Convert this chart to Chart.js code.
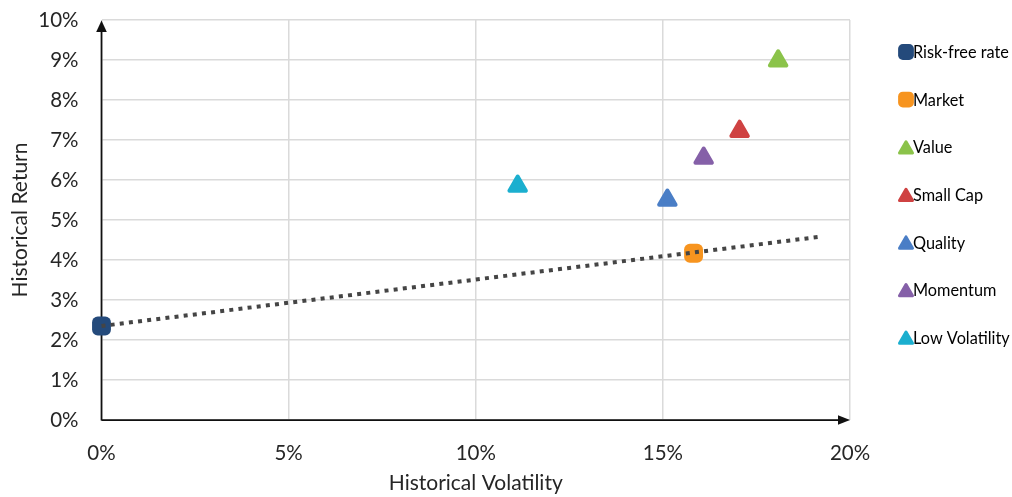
<!DOCTYPE html>
<html><head><meta charset="utf-8">
<script src="https://cdn.jsdelivr.net/npm/chart.js@4/dist/chart.umd.min.js"></script>
<style>html,body{margin:0;padding:0;background:#fff}#wrap{width:1012px;height:497px;position:relative}</style>
</head><body><div id="wrap"><canvas id="c"></canvas></div>
<script>
// ---- data ----
const seriesNames = ['Risk-free rate', 'Market', 'Value', 'Small Cap', 'Quality', 'Momentum', 'Low Volatility'];
const volatility = [0, 15.82, 18.08, 17.05, 15.12, 16.09, 11.12];   // x, %
const historicalReturn = [2.35, 4.17, 8.98, 7.22, 5.50, 6.55, 5.85]; // y, %
const seriesColors = ['#244a7b', '#f7941f', '#8bc34a', '#cf4242', '#4a7ec6', '#8560a8', '#1bafcf'];
const seriesShapes = ['rectRounded', 'rectRounded', 'triangle', 'triangle', 'triangle', 'triangle', 'triangle'];
const lineX = [0, 19.15];
const lineY = [2.35, 4.575];
const xTicks = [0, 5, 10, 15, 20];
const yTicks = [0, 1, 2, 3, 4, 5, 6, 7, 8, 9, 10];

const FONT = 'Lato';
const TEXT = '#262626';

const datasets = [{
  type: 'line',
  label: 'CML',
  data: lineX.map((x, i) => ({x: x, y: lineY[i]})),
  borderColor: '#454545',
  borderWidth: 4,
  borderDash: [4, 5.2],
  borderCapStyle: 'butt',
  pointRadius: 0,
  fill: false,
  clip: false,
  order: 0
}];
seriesNames.forEach((n, i) => {
  const tri = seriesShapes[i] === 'triangle';
  datasets.push({
    type: 'scatter',
    label: n,
    data: [{x: volatility[i], y: historicalReturn[i]}],
    pointStyle: seriesShapes[i],
    pointRadius: tri ? 9.5 : 11,
    pointHoverRadius: tri ? 9.5 : 11,
    pointBackgroundColor: seriesColors[i],
    pointBorderColor: seriesColors[i],
    pointBorderWidth: tri ? 4 : 0,
    clip: false,
    order: 1
  });
});

const roundJoin = {
  id: 'roundJoin',
  beforeDatasetsDraw(chart) {
    const ctx = chart.ctx;
    const xs = chart.scales.x, ys = chart.scales.y;
    const x0 = xs.getPixelForValue(0), y0 = ys.getPixelForValue(0);
    const top = ys.top, right = xs.right;
    ctx.save();
    ctx.strokeStyle = '#111'; ctx.fillStyle = '#111'; ctx.lineWidth = 1.75;
    ctx.beginPath(); ctx.moveTo(x0, y0 + 0.5); ctx.lineTo(x0, top + 8); ctx.stroke();
    ctx.beginPath(); ctx.moveTo(x0, top + 0.5); ctx.lineTo(x0 - 5.3, top + 12); ctx.lineTo(x0 + 5.3, top + 12); ctx.closePath(); ctx.fill();
    ctx.beginPath(); ctx.moveTo(x0, y0); ctx.lineTo(right - 8, y0); ctx.stroke();
    ctx.beginPath(); ctx.moveTo(right, y0); ctx.lineTo(right - 12, y0 - 4.8); ctx.lineTo(right - 12, y0 + 4.8); ctx.closePath(); ctx.fill();
    ctx.restore();
    ctx.save();
    ctx.lineJoin = 'round';
  },
  afterDatasetsDraw(chart) {
    chart.ctx.restore();
  },
  afterDraw(chart) {
    const ctx = chart.ctx;
    ctx.save();
    ctx.lineJoin = 'round';
    ctx.font = '16.3px ' + FONT;
    ctx.textBaseline = 'middle';
    ctx.textAlign = 'left';
    const lx = 906, ly0 = 52, gap = 47.6;
    seriesNames.forEach((n, i) => {
      const y = ly0 + i * gap;
      const tri = seriesShapes[i] === 'triangle';
      ctx.fillStyle = seriesColors[i];
      ctx.strokeStyle = seriesColors[i];
      ctx.lineWidth = tri ? 3 : 0;
      Chart.helpers.drawPoint(ctx, {
        pointStyle: seriesShapes[i],
        radius: tri ? 7.5 : 9.2,
        borderWidth: tri ? 3 : 0,
        rotation: 0
      }, lx, tri ? y + 2 : y);
      ctx.fillStyle = '#000';
      ctx.fillText(n, 913, y + 1);
    });
    ctx.restore();
  }
};

new Chart(document.getElementById('c'), {
  data: {datasets: datasets},
  options: {
    responsive: true,
    maintainAspectRatio: false,
    animation: false,
    events: [],
    layout: {padding: {top: 20, right: 162, left: 0, bottom: 0}},
    plugins: {legend: {display: false}, tooltip: {enabled: false}, title: {display: false}},
    scales: {
      x: {
        type: 'linear', min: 0, max: 20,
        afterBuildTicks: s => { s.ticks = xTicks.map(v => ({value: v})); },
        afterFit: s => { s.height = 77; s.paddingLeft = 0; s.paddingRight = 0; },
        grid: {color: '#dadada', lineWidth: 1.5, drawTicks: false},
        border: {display: false},
        ticks: {padding: 21, color: TEXT, font: {family: FONT, size: 20.5}, callback: v => v + '%', maxRotation: 0},
        title: {display: true, text: 'Historical Volatility', color: TEXT, font: {family: FONT, size: 21}, padding: {top: 0, bottom: 1}}
      },
      y: {
        type: 'linear', min: 0, max: 10,
        afterBuildTicks: s => { s.ticks = yTicks.map(v => ({value: v})); },
        afterFit: s => { s.width = 101.5; s.paddingTop = 0; s.paddingBottom = 0; },
        grid: {color: '#dadada', lineWidth: 1.5, drawTicks: false},
        border: {display: false},
        ticks: {padding: 23, color: TEXT, font: {family: FONT, size: 20.5}, callback: v => v + '%'},
        title: {display: true, text: 'Historical Return', color: TEXT, font: {family: FONT, size: 21}, padding: {top: 8, bottom: 0}}
      }
    }
  },
  plugins: [roundJoin]
});
</script>
</body></html>
